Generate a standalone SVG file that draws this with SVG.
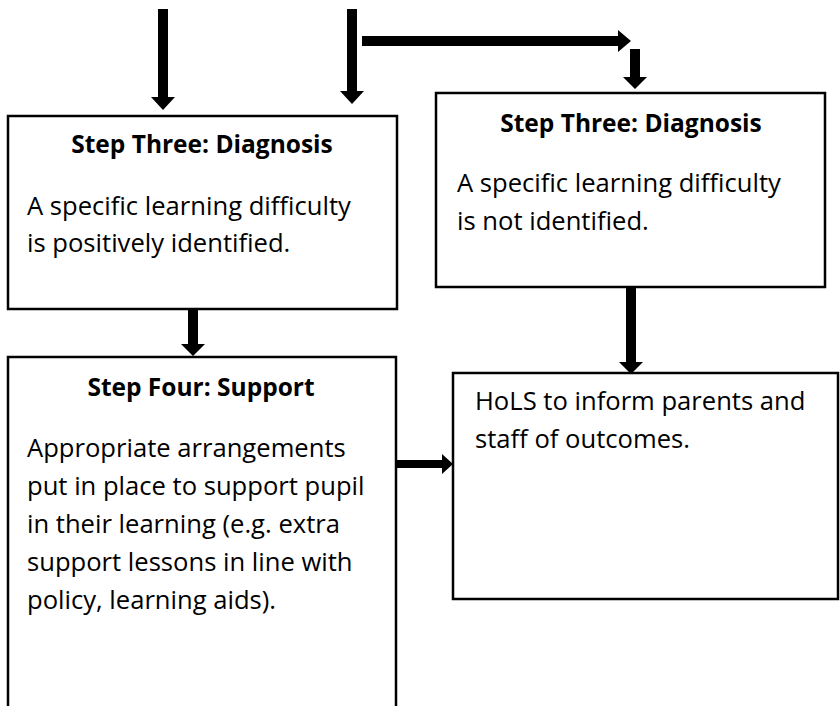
<svg xmlns="http://www.w3.org/2000/svg" width="840" height="706" viewBox="0 0 840 706">
<style>
.box{fill:#fff;stroke:#000;stroke-width:2.5}
.t{font-family:"Open Sans","Liberation Sans",sans-serif;font-weight:bold;font-size:24.5px;fill:#000}
.b{font-family:"Open Sans","Liberation Sans",sans-serif;font-size:25.6px;fill:#000}
.arr{fill:#000}
</style>
<rect width="840" height="706" fill="#fff"/>
<g id="connectors">
<path class="arr" d="M158,9 H168 V97 H175 L163,110 L151,97 H158 Z"/>
<path class="arr" d="M347,9 H357 V91 H364 L352,104 L340,91 H347 Z"/>
<path class="arr" d="M362,36 H618 V30 L631,41 L618,52 V46 H362 Z"/>
<path class="arr" d="M630,49 H640 V77 H647 L635,89 L623,77 H630 Z"/>
<path class="arr" d="M188,310 H198 V344 H205 L193,356 L181,344 H188 Z"/>
<path class="arr" d="M626,287 H636 V362 H643 L631,374 L619,362 H626 Z"/>
<path class="arr" d="M397,460 H442 V454 L453,464 L442,474 V468 H397 Z"/>
</g>
<g id="node-step3-yes">
<rect class="box" x="8" y="116" width="389" height="193"/>
<text class="t" x="202" y="153" text-anchor="middle">Step Three: Diagnosis</text>
<text class="b" x="27" y="215">A specific learning difficulty</text>
<text class="b" x="27" y="252">is positively identified.</text>
</g>
<g id="node-step3-no">
<rect class="box" x="436" y="93" width="389" height="194"/>
<text class="t" x="631" y="132" text-anchor="middle">Step Three: Diagnosis</text>
<text class="b" x="457" y="192">A specific learning difficulty</text>
<text class="b" x="457" y="230">is not identified.</text>
</g>
<g id="node-step4">
<rect class="box" x="8" y="357" width="388" height="360"/>
<text class="t" x="201" y="396" text-anchor="middle">Step Four: Support</text>
<text class="b" x="27" y="457">Appropriate arrangements</text>
<text class="b" x="27" y="495">put in place to support pupil</text>
<text class="b" x="27" y="533">in their learning (e.g. extra</text>
<text class="b" x="27" y="571">support lessons in line with</text>
<text class="b" x="27" y="609">policy, learning aids).</text>
</g>
<g id="node-hols">
<rect class="box" x="453" y="373" width="385" height="226"/>
<text class="b" x="475" y="410">HoLS to inform parents and</text>
<text class="b" x="475" y="448">staff of outcomes.</text>
</g>
</svg>
